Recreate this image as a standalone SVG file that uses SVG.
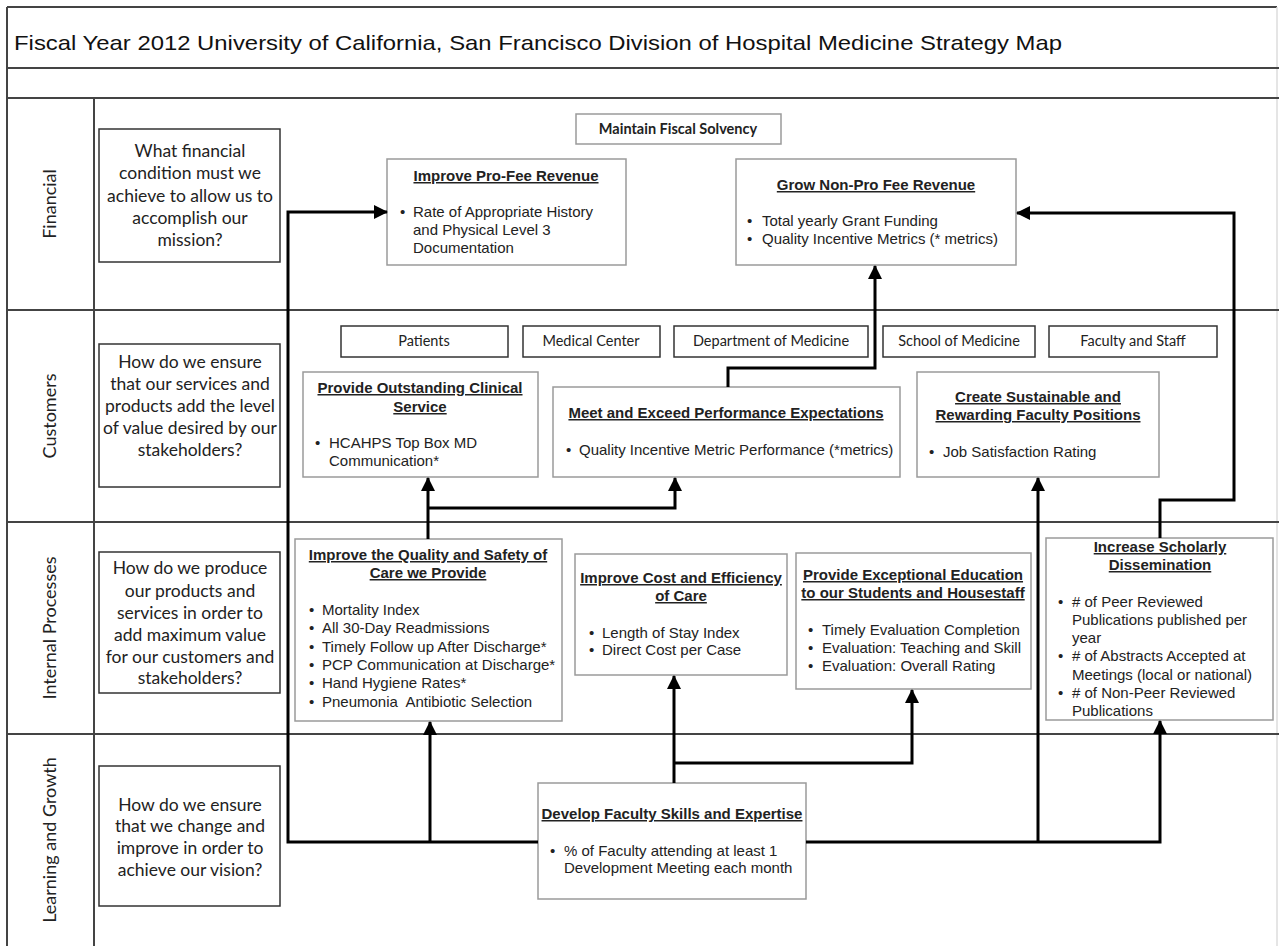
<svg xmlns="http://www.w3.org/2000/svg" width="1279" height="946" viewBox="0 0 1279 946">
<defs>
<marker id="arr" markerUnits="userSpaceOnUse" markerWidth="14" markerHeight="14" refX="13" refY="7" orient="auto">
<path d="M0,0 L14,7 L0,14 Z" fill="#000"/>
</marker>
<style>
.fr{stroke:#444;stroke-width:2;fill:none}
.q{fill:#fff;stroke:#333;stroke-width:1.5}
.o{fill:#fff;stroke:#9a9a9a;stroke-width:1.5}
.s{fill:#fff;stroke:#333;stroke-width:1.5}
.cn{fill:none;stroke:#000;stroke-width:3}
.cal{font-family:Lato,"Open Sans","DejaVu Sans",sans-serif;fill:#222}
.ql{font-size:17.5px;text-anchor:middle}
.rl{font-size:18px;text-anchor:middle}
.sl{font-size:14.5px;text-anchor:middle}
.ar{font-family:"Liberation Sans",Arial,sans-serif;fill:#222;font-size:15px}
.hd{font-weight:bold;text-decoration:underline;text-anchor:middle}
</style>
</defs>
<rect x="0" y="0" width="1279" height="946" fill="#fff"/>
<g id="frame">
<line x1="7" y1="7" x2="1277" y2="7" class="fr"/>
<line x1="7" y1="7" x2="7" y2="946" class="fr"/>
<line x1="1277" y1="7" x2="1277" y2="946" stroke="#ddd" stroke-width="1.5"/>
<line x1="7" y1="68" x2="1279" y2="68" class="fr"/>
<line x1="7" y1="98" x2="1279" y2="98" class="fr"/>
<line x1="7" y1="310" x2="1279" y2="310" class="fr"/>
<line x1="7" y1="522" x2="1279" y2="522" class="fr"/>
<line x1="7" y1="734" x2="1279" y2="734" class="fr"/>
<line x1="94" y1="98" x2="94" y2="946" class="fr"/>
<text x="14" y="50" font-family="Liberation Sans, Arial, sans-serif" font-size="21" fill="#111" textLength="1048" lengthAdjust="spacingAndGlyphs">Fiscal Year 2012 University of California, San Francisco Division of Hospital Medicine Strategy Map</text>
</g>
<g id="row-labels" class="cal rl">
<text transform="translate(56,204) rotate(-90)">Financial</text>
<text transform="translate(56,416) rotate(-90)">Customers</text>
<text transform="translate(56,628) rotate(-90)">Internal Processes</text>
<text transform="translate(56,840) rotate(-90)">Learning and Growth</text>
</g>
<g id="q-financial">
<rect x="99" y="129" width="181" height="133" class="q"/>
<text class="cal ql"><tspan x="190" y="157">What financial</tspan><tspan x="190" y="179">condition must we</tspan><tspan x="190" y="202">achieve to allow us to</tspan><tspan x="190" y="224">accomplish our</tspan><tspan x="190" y="246">mission?</tspan></text>
</g>
<g id="q-customers">
<rect x="99" y="344" width="181" height="143" class="q"/>
<text class="cal ql"><tspan x="190" y="368">How do we ensure</tspan><tspan x="190" y="390">that our services and</tspan><tspan x="190" y="412">products add the level</tspan><tspan x="190" y="434">of value desired by our</tspan><tspan x="190" y="456">stakeholders?</tspan></text>
</g>
<g id="q-internal">
<rect x="99" y="552" width="181" height="141" class="q"/>
<text class="cal ql"><tspan x="190" y="574">How do we produce</tspan><tspan x="190" y="597">our products and</tspan><tspan x="190" y="619">services in order to</tspan><tspan x="190" y="641">add maximum value</tspan><tspan x="190" y="663">for our customers and</tspan><tspan x="190" y="684">stakeholders?</tspan></text>
</g>
<g id="q-learning">
<rect x="99" y="766" width="181" height="140" class="q"/>
<text class="cal ql"><tspan x="190" y="811">How do we ensure</tspan><tspan x="190" y="832">that we change and</tspan><tspan x="190" y="854">improve in order to</tspan><tspan x="190" y="876">achieve our vision?</tspan></text>
</g>
<g id="maintain-fiscal-solvency">
<rect x="576" y="114" width="205" height="30" class="o"/>
<text x="678" y="134" class="cal sl" font-weight="bold">Maintain Fiscal Solvency</text>
</g>
<g id="stakeholders" class="cal sl">
<rect x="341" y="326" width="167" height="31" class="s"/><text x="424" y="346">Patients</text>
<rect x="523" y="326" width="137" height="31" class="s"/><text x="591" y="346">Medical Center</text>
<rect x="674" y="326" width="194" height="31" class="s"/><text x="771" y="346">Department of Medicine</text>
<rect x="883" y="326" width="152" height="31" class="s"/><text x="959" y="346">School of Medicine</text>
<rect x="1049" y="326" width="168" height="31" class="s"/><text x="1133" y="346">Faculty and Staff</text>
</g>
<g id="improve-pro-fee" class="ar">
<rect x="387" y="159" width="239" height="106" class="o"/>
<text x="506" y="181" class="hd">Improve Pro-Fee Revenue</text>
<text x="400" y="217">•</text>
<text><tspan x="413" y="217">Rate of Appropriate History</tspan><tspan x="413" y="235">and Physical Level 3</tspan><tspan x="413" y="253">Documentation</tspan></text>
</g>
<g id="grow-non-pro-fee" class="ar">
<rect x="736" y="159" width="280" height="106" class="o"/>
<text x="876" y="190" class="hd">Grow Non-Pro Fee Revenue</text>
<text x="747" y="226">•</text><text x="762" y="226">Total yearly Grant Funding</text>
<text x="747" y="244">•</text><text x="762" y="244">Quality Incentive Metrics (* metrics)</text>
</g>
<g id="clinical-service" class="ar">
<rect x="303" y="372" width="235" height="105" class="o"/>
<text x="420" y="393" class="hd">Provide Outstanding Clinical</text>
<text x="420" y="412" class="hd">Service</text>
<text x="315" y="448">•</text>
<text><tspan x="329" y="448">HCAHPS Top Box MD</tspan><tspan x="329" y="466">Communication*</tspan></text>
</g>
<g id="performance-expectations" class="ar">
<rect x="553" y="387" width="347" height="90" class="o"/>
<text x="726" y="418" class="hd">Meet and Exceed Performance Expectations</text>
<text x="566" y="455">•</text><text x="579" y="455">Quality Incentive Metric Performance (*metrics)</text>
</g>
<g id="faculty-positions" class="ar">
<rect x="917" y="372" width="242" height="105" class="o"/>
<text x="1038" y="402" class="hd">Create Sustainable and</text>
<text x="1038" y="420" class="hd">Rewarding Faculty Positions</text>
<text x="929" y="457">•</text><text x="943" y="457">Job Satisfaction Rating</text>
</g>
<g id="quality-safety" class="ar">
<rect x="295" y="539" width="267" height="182" class="o"/>
<text x="428" y="560" class="hd">Improve the Quality and Safety of</text>
<text x="428" y="578" class="hd">Care we Provide</text>
<text x="309" y="615">•</text><text x="322" y="615">Mortality Index</text>
<text x="309" y="633">•</text><text x="322" y="633">All 30-Day Readmissions</text>
<text x="309" y="652">•</text><text x="322" y="652">Timely Follow up After Discharge*</text>
<text x="309" y="670">•</text><text x="322" y="670">PCP Communication at Discharge*</text>
<text x="309" y="688">•</text><text x="322" y="688">Hand Hygiene Rates*</text>
<text x="309" y="707">•</text><text x="322" y="707" xml:space="preserve">Pneumonia  Antibiotic Selection</text>
</g>
<g id="cost-efficiency" class="ar">
<rect x="575" y="554" width="212" height="121" class="o"/>
<text x="681" y="583" class="hd">Improve Cost and Efficiency</text>
<text x="681" y="601" class="hd">of Care</text>
<text x="589" y="638">•</text><text x="602" y="638">Length of Stay Index</text>
<text x="589" y="655">•</text><text x="602" y="655">Direct Cost per Case</text>
</g>
<g id="education" class="ar">
<rect x="796" y="553" width="235" height="136" class="o"/>
<text x="913" y="580" class="hd">Provide Exceptional Education</text>
<text x="913" y="598" class="hd">to our Students and Housestaff</text>
<text x="808" y="635">•</text><text x="822" y="635">Timely Evaluation Completion</text>
<text x="808" y="653">•</text><text x="822" y="653">Evaluation: Teaching and Skill</text>
<text x="808" y="671">•</text><text x="822" y="671">Evaluation: Overall Rating</text>
</g>
<g id="scholarly-dissemination" class="ar">
<rect x="1046" y="538" width="227" height="182" class="o"/>
<text x="1160" y="552" class="hd">Increase Scholarly</text>
<text x="1160" y="570" class="hd">Dissemination</text>
<text x="1058" y="607">•</text>
<text><tspan x="1072" y="607"># of Peer Reviewed</tspan><tspan x="1072" y="625">Publications published per</tspan><tspan x="1072" y="643">year</tspan></text>
<text x="1058" y="661">•</text>
<text><tspan x="1072" y="661"># of Abstracts Accepted at</tspan><tspan x="1072" y="680">Meetings (local or national)</tspan></text>
<text x="1058" y="698">•</text>
<text><tspan x="1072" y="698"># of Non-Peer Reviewed</tspan><tspan x="1072" y="716">Publications</tspan></text>
</g>
<g id="faculty-skills" class="ar">
<rect x="538" y="783" width="268" height="116" class="o"/>
<text x="672" y="819" class="hd">Develop Faculty Skills and Expertise</text>
<text x="550" y="856">•</text>
<text><tspan x="564" y="856">% of Faculty attending at least 1</tspan><tspan x="564" y="873">Development Meeting each month</tspan></text>
</g>
<g id="connectors" class="cn">
<path d="M538 842 H288 V212 H387" marker-end="url(#arr)"/>
<path d="M430 842 V722" marker-end="url(#arr)"/>
<path d="M806 842 H1160 V721" marker-end="url(#arr)"/>
<path d="M1038 842 V478" marker-end="url(#arr)"/>
<path d="M674 783 V676" marker-end="url(#arr)"/>
<path d="M674 763 H912 V690" marker-end="url(#arr)"/>
<path d="M428 539 V508"/>
<path d="M428 508 V478" marker-end="url(#arr)"/>
<path d="M428 508 H675 V478" marker-end="url(#arr)"/>
<path d="M728 387 V368 H875 V266" marker-end="url(#arr)"/>
<path d="M1160 538 V500 H1234 V213 H1017" marker-end="url(#arr)"/>
</g>
</svg>
